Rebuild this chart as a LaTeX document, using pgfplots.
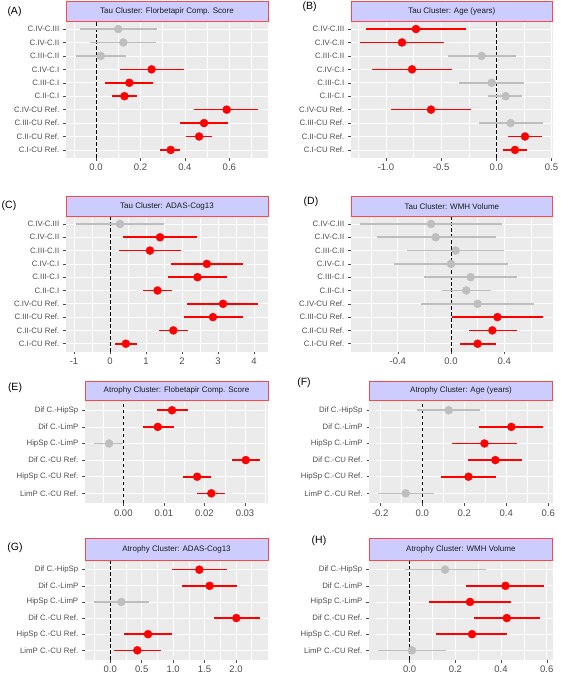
\documentclass[border=0pt]{standalone}
\usepackage{fontspec}
\setmainfont{Liberation Sans}
\usepackage{pgfplots}
\usepackage{pgfplotstable}
\pgfplotsset{compat=1.18}
\definecolor{panelbg}{HTML}{EBEBEB}
\definecolor{gray30}{HTML}{4D4D4D}
\definecolor{gray10}{HTML}{1A1A1A}
\definecolor{sigred}{HTML}{FF0000}
\definecolor{nsgray}{HTML}{BEBEBE}
\definecolor{stripfill}{HTML}{CCCCFF}
\definecolor{stripborder}{HTML}{F8484A}
% columns: r = row (top = largest), e = estimate, l = lower CI, h = upper CI
\pgfplotstableread[row sep=\\]{r e l h\\ 10 0.100 -0.072 0.276\\ 9 0.123 -0.027 0.268\\ 8 0.021 -0.090 0.135\\}\Ans
\pgfplotstableread[row sep=\\]{r e l h\\ 7 0.250 0.108 0.394\\ 6 0.150 0.042 0.258\\ 5 0.128 0.070 0.186\\ 4 0.588 0.442 0.730\\ 3 0.486 0.378 0.593\\ 2 0.464 0.405 0.522\\ 1 0.336 0.290 0.378\\}\Asig
\pgfplotstableread[row sep=\\]{r e l h\\ 8 -0.133 -0.441 0.178\\ 6 -0.042 -0.335 0.254\\ 5 0.085 -0.072 0.233\\ 3 0.130 -0.157 0.426\\}\Bns
\pgfplotstableread[row sep=\\]{r e l h\\ 10 -0.728 -1.180 -0.278\\ 9 -0.855 -1.236 -0.474\\ 7 -0.764 -1.130 -0.399\\ 4 -0.592 -0.958 -0.230\\ 2 0.260 0.109 0.411\\ 1 0.169 0.057 0.281\\}\Bsig
\pgfplotstableread[row sep=\\]{r e l h\\ 10 0.28 -0.94 1.51\\}\Cns
\pgfplotstableread[row sep=\\]{r e l h\\ 9 1.39 0.37 2.41\\ 8 1.11 0.25 1.97\\ 7 2.69 1.70 3.69\\ 6 2.43 1.61 3.24\\ 5 1.32 0.91 1.73\\ 4 3.14 2.15 4.12\\ 3 2.86 2.05 3.69\\ 2 1.76 1.36 2.17\\ 1 0.44 0.14 0.75\\}\Csig
\pgfplotstableread[row sep=\\]{r e l h\\ 10 -0.150 -0.685 0.381\\ 9 -0.115 -0.560 0.336\\ 8 0.035 -0.330 0.400\\ 7 0.000 -0.430 0.430\\ 6 0.148 -0.200 0.497\\ 5 0.115 -0.070 0.298\\ 4 0.200 -0.228 0.627\\}\Dns
\pgfplotstableread[row sep=\\]{r e l h\\ 3 0.349 0.005 0.695\\ 2 0.311 0.135 0.494\\ 1 0.200 0.068 0.336\\}\Dsig
\pgfplotstableread[row sep=\\]{r e l h\\ 4 -0.0035 -0.0072 0.0000\\}\Ens
\pgfplotstableread[row sep=\\]{r e l h\\ 6 0.0120 0.0082 0.0159\\ 5 0.0085 0.0048 0.0124\\ 3 0.0302 0.0269 0.0336\\ 2 0.0182 0.0148 0.0217\\ 1 0.0217 0.0182 0.0251\\}\Esig
\pgfplotstableread[row sep=\\]{r e l h\\ 6 0.126 -0.027 0.277\\ 1 -0.079 -0.209 0.054\\}\Fns
\pgfplotstableread[row sep=\\]{r e l h\\ 5 0.424 0.269 0.576\\ 4 0.296 0.140 0.452\\ 3 0.348 0.219 0.477\\ 2 0.220 0.090 0.351\\}\Fsig
\pgfplotstableread[row sep=\\]{r e l h\\ 4 0.175 -0.260 0.610\\}\Gns
\pgfplotstableread[row sep=\\]{r e l h\\ 6 1.417 0.976 1.857\\ 5 1.581 1.140 2.016\\ 3 2.005 1.655 2.377\\ 2 0.600 0.223 0.976\\ 1 0.430 0.064 0.800\\}\Gsig
\pgfplotstableread[row sep=\\]{r e l h\\ 6 0.155 -0.020 0.334\\ 1 0.010 -0.139 0.159\\}\Hns
\pgfplotstableread[row sep=\\]{r e l h\\ 5 0.419 0.245 0.590\\ 4 0.264 0.083 0.445\\ 3 0.425 0.280 0.569\\ 2 0.273 0.117 0.428\\}\Hsig
\pgfplotsset{
  forest/.style={
    scale only axis,
    axis background/.style={fill=panelbg},
    axis line style={draw=none},
    tick pos=left,
    tick align=outside,
    major tick length=2.75pt,
    minor tick length=0pt,
    tick style={gray30, line width=0.5pt},
    xmajorgrids, xminorgrids, ymajorgrids,
    major grid style={white, line width=0.7pt},
    minor grid style={white, line width=0.35pt},
    yticklabel style={font=\fontsize{7.8}{8}\selectfont, text=gray30, xshift=-0.5pt},
    xticklabel style={font=\fontsize{9.5}{10}\selectfont, text=gray30},
    scaled x ticks=false,
    ymin=0.4,
    clip=false,
  },
  tau/.style={forest, ymax=10.6, ytick={1,...,10},
    yticklabels={C.I-CU Ref.,C.II-CU Ref.,C.III-CU Ref.,C.IV-CU Ref.,C.II-C.I,C.III-C.I,C.IV-C.I,C.III-C.II,C.IV-C.II,C.IV-C.III}},
  atr/.style={forest, ymax=6.6, ytick={1,...,6},
    yticklabels={LimP C.-CU Ref.,HipSp C.-CU Ref.,Dif C.-CU Ref.,HipSp C.-LimP,Dif C.-LimP,Dif C.-HipSp}},
  cil/.style={draw=#1, line width=1.6pt, mark=none, -,
    quiver={u=\thisrow{h}-\thisrow{l}, v=0}},
  pt/.style={only marks, mark=*, mark size=4pt, color=#1, mark options={draw=#1, fill=#1}},
  zeroline/.style={black, line width=0.9pt, dash pattern=on 3.5pt off 2.5pt},
}
\newcommand{\forest}[2]{%
  \addplot[cil=nsgray] table[x=l, y=r] {#1};
  \addplot[cil=sigred] table[x=l, y=r] {#2};
  \addplot[pt=nsgray] table[x=e, y=r] {#1};
  \addplot[pt=sigred] table[x=e, y=r] {#2};
}
\newcommand{\strip}[3]{%
  \draw[fill=stripfill, draw=stripborder, line width=0.8pt] (#1.north west) rectangle ([yshift=#2pt]#1.north east);
  \node[font=\fontsize{8}{9}\selectfont, text=gray10] at ([yshift=0.5*#2pt]#1.north) {#3};
}
\newcommand{\plab}[3]{\node[font=\fontsize{10.5}{11}\selectfont] at (#1pt,677pt-#2pt) {#3};}
\begin{document}
\begin{tikzpicture}[x=1pt,y=1pt]
\path[use as bounding box] (0,0) rectangle (560,677);

% (A)
\begin{axis}[tau, name=A, at={(66pt,519pt)}, anchor=south west, width=202pt, height=137pt,
  xmin=-0.135, xmax=0.774, xtick={0,0.2,0.4,0.6}, xticklabels={0.0,0.2,0.4,0.6},
  minor xtick={-0.1,0.1,0.3,0.5,0.7}]
\addplot[zeroline] coordinates {(0,0.4) (0,10.6)};
\forest{\Ans}{\Asig}
\end{axis}
\strip{A}{20}{Tau Cluster: Florbetapir Comp. Score}
\plab{14.5}{11.5}{(A)}

% (B)
\begin{axis}[tau, name=B, at={(351pt,519pt)}, anchor=south west, width=201.7pt, height=137pt,
  xmin=-1.317, xmax=0.511, xtick={-1,-0.5,0,0.5}, xticklabels={-1.0,-0.5,0.0,0.5},
  minor xtick={-1.25,-0.75,-0.25,0.25}]
\addplot[zeroline] coordinates {(0,0.4) (0,10.6)};
\forest{\Bns}{\Bsig}
\end{axis}
\strip{B}{20}{Tau Cluster: Age (years)}
\plab{309.7}{7}{(B)}

% (C)
\begin{axis}[tau, name=C, at={(66pt,325.3pt)}, anchor=south west, width=202pt, height=135.7pt,
  xmin=-1.222, xmax=4.389, xtick={-1,0,1,2,3,4}, xticklabels={-1,0,1,2,3,4},
  minor xtick={-0.5,0.5,1.5,2.5,3.5}]
\addplot[zeroline] coordinates {(0,0.4) (0,10.6)};
\forest{\Cns}{\Csig}
\end{axis}
\strip{C}{19.3}{Tau Cluster: ADAS-Cog13}
\plab{9}{206}{(C)}

% (D)
\begin{axis}[tau, name=D, at={(351pt,325.3pt)}, anchor=south west, width=201.7pt, height=135.7pt,
  xmin=-0.752, xmax=0.765, xtick={-0.4,0,0.4}, xticklabels={-0.4,0.0,0.4},
  minor xtick={-0.6,-0.2,0.2,0.6}]
\addplot[zeroline] coordinates {(0,0.4) (0,10.6)};
\forest{\Dns}{\Dsig}
\end{axis}
\strip{D}{19.3}{Tau Cluster: WMH Volume}
\plab{311}{201.7}{(D)}

% (E)
\begin{axis}[atr, name=E, at={(85pt,173.7pt)}, anchor=south west, width=183pt, height=103pt,
  xmin=-0.00944, xmax=0.03567, xtick={0,0.01,0.02,0.03}, xticklabels={0.00,0.01,0.02,0.03},
  minor xtick={-0.005,0.005,0.015,0.025,0.035}]
\addplot[zeroline] coordinates {(0,0.4) (0,6.6)};
\forest{\Ens}{\Esig}
\end{axis}
\strip{E}{19.3}{Atrophy Cluster: Flobetapir Comp. Score}
\plab{15}{388}{(E)}

% (F)
\begin{axis}[atr, name=F, at={(369.3pt,173.7pt)}, anchor=south west, width=183.4pt, height=103pt,
  xmin=-0.252, xmax=0.621, xtick={-0.2,0,0.2,0.4,0.6}, xticklabels={-0.2,0.0,0.2,0.4,0.6},
  minor xtick={-0.1,0.1,0.3,0.5}]
\addplot[zeroline] coordinates {(0,0.4) (0,6.6)};
\forest{\Fns}{\Fsig}
\end{axis}
\strip{F}{19.3}{Atrophy Cluster: Age (years)}
\plab{304}{383}{(F)}

% (G)
\begin{axis}[atr, name=G, at={(85pt,17pt)}, anchor=south west, width=183pt, height=100pt,
  xmin=-0.403, xmax=2.51, xtick={0,0.5,1,1.5,2}, xticklabels={0.0,0.5,1.0,1.5,2.0},
  minor xtick={-0.25,0.25,0.75,1.25,1.75,2.25}]
\addplot[zeroline] coordinates {(0,0.4) (0,6.6)};
\forest{\Gns}{\Gsig}
\end{axis}
\strip{G}{21.5}{Atrophy Cluster: ADAS-Cog13}
\plab{15}{548}{(G)}

% (H)
\begin{axis}[atr, name=H, at={(369pt,17pt)}, anchor=south west, width=183.7pt, height=100pt,
  xmin=-0.178, xmax=0.626, xtick={0,0.2,0.4,0.6}, xticklabels={0.0,0.2,0.4,0.6},
  minor xtick={-0.1,0.1,0.3,0.5}]
\addplot[zeroline] coordinates {(0,0.4) (0,6.6)};
\forest{\Hns}{\Hsig}
\end{axis}
\strip{H}{21.5}{Atrophy Cluster: WMH Volume}
\plab{319}{541}{(H)}
\end{tikzpicture}
\end{document}
